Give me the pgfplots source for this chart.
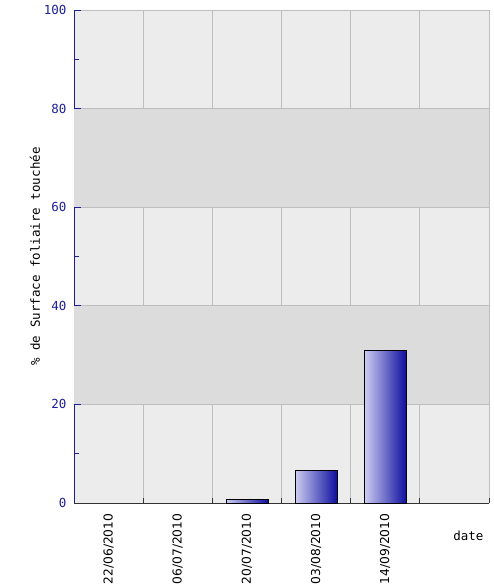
\documentclass[border=0pt]{standalone}
\usepackage{pgfplots}
\pgfplotsset{compat=1.18}
\usepackage{fontspec}
\setmainfont{DejaVu Sans}
\newfontfamily\monofont{DejaVu Sans Mono}
\definecolor{axblue}{RGB}{30,30,150}
\definecolor{bandlight}{RGB}{236,236,236}
\definecolor{banddark}{RGB}{220,220,220}
\definecolor{gridgray}{RGB}{190,190,190}
\definecolor{barlight}{RGB}{205,205,242}
\definecolor{bardark}{RGB}{15,15,160}

\begin{document}
\begin{tikzpicture}
\begin{axis}[
  name=ax,
  set layers,
  scale only axis,
  width=415pt, height=493pt,
  xmin=-0.5, xmax=5.5,
  ymin=0, ymax=100,
  ybar, bar width=42pt, bar shift=0pt,
  axis x line=bottom, axis y line=left,
  axis line style={-},
  x axis line style={draw=black!80},
  y axis line style={draw=axblue, line width=0.8pt},
  tick align=inside,
  xtick align=inside, ytick align=inside,
  major tick length=7pt, minor tick length=5pt,
  xtick={0,1,2,3,4},
  xticklabels={22/06/2010,06/07/2010,20/07/2010,03/08/2010,14/09/2010},
  minor xtick={-0.5,0.5,...,5.5},
  every major x tick/.style={draw=none},
  every minor x tick/.style={draw=black!80, line width=0.8pt},
  xticklabel style={rotate=90, anchor=east, font=\fontsize{12.3}{13}\selectfont, xshift=-7pt},
  ytick={0,20,...,100},
  minor ytick={10,30,...,90},
  every y tick/.style={draw=axblue, line width=0.8pt},
  /pgf/number format/assume math mode=true,
  yticklabel style={font=\monofont\fontsize{12.5}{13}\selectfont, text=axblue, xshift=-4pt},
  xminorgrids=true, ymajorgrids=true, xmajorgrids=false, yminorgrids=false,
  grid style={draw=gridgray, line width=0.8pt},
  minor grid style={draw=gridgray, line width=0.8pt},
  axis background/.style={fill=bandlight},
  ylabel={\% de Surface foliaire touchée},
  every axis y label/.style={at={(axis description cs:0,0.5)}, xshift=-39pt, rotate=90, anchor=center, font=\monofont\fontsize{12.5}{13}\selectfont},
  xlabel={date},
  every axis x label/.style={at={(axis description cs:1,0)}, anchor=east, xshift=-2pt, yshift=-33pt, font=\monofont\fontsize{12.5}{13}\selectfont},
  clip=false,
]
\fill[on layer=axis background, banddark] (axis cs:-0.5,20) rectangle (axis cs:5.5,40);
\fill[on layer=axis background, banddark] (axis cs:-0.5,60) rectangle (axis cs:5.5,80);
\addplot[draw=black, line width=0.7pt, left color=barlight, right color=bardark] coordinates {(2,0.7)};
\addplot[draw=black, line width=0.7pt, left color=barlight, right color=bardark] coordinates {(3,6.6)};
\addplot[draw=black, line width=0.7pt, left color=barlight, right color=bardark] coordinates {(4,31.0)};
\end{axis}
\pgfresetboundingbox
\path[use as bounding box] ([shift={(-74pt,-84pt)}]ax.south west) rectangle ([shift={(4.5pt,10pt)}]ax.north east);
\end{tikzpicture}
\end{document}
